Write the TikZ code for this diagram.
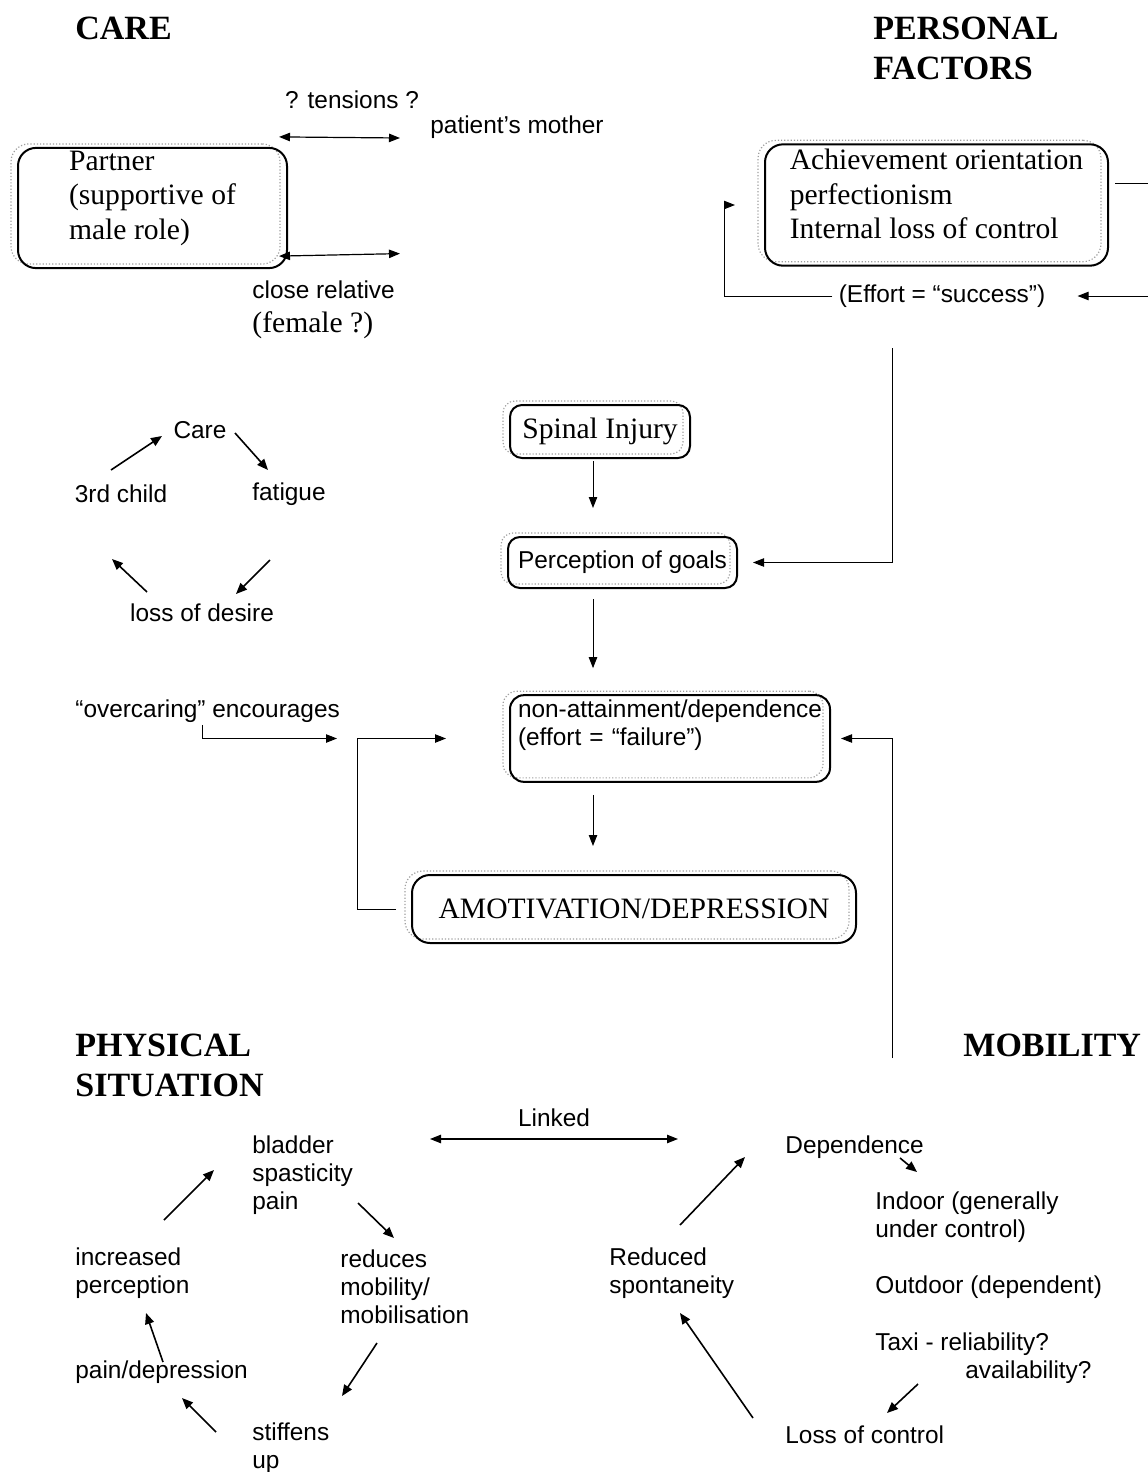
\documentclass[tikz,border=0pt]{standalone}
\usepackage{fontspec}
\setmainfont{Liberation Serif}
\setsansfont{Liberation Sans}
\usetikzlibrary{arrows.meta,calc}
\newcommand{\lowpad}[1]{\rule[-#1]{0pt}{#1}}

\begin{document}
\begin{tikzpicture}[
  x=0.5pt, y=-0.5pt,
  head/.style={font=\bfseries\fontsize{17}{20}\selectfont, align=left,
    inner sep=0pt, anchor=west},
  txt/.style={font=\sffamily\fontsize{12.2}{14}\selectfont, align=left,
    inner sep=1pt},
  ghost/.style={preaction={draw=gray!75, densely dotted, line width=0.6pt,
    transform canvas={xshift=-3.5pt, yshift=2pt}}},
  rbox/.style={ghost, draw, line width=1pt, rounded corners=9pt, align=left,
    font=\fontsize{14.8}{17.2}\selectfont},
  sbox/.style={ghost, draw, line width=1pt, rounded corners=7pt, align=left,
    font=\sffamily\fontsize{12.2}{14}\selectfont},
  arr/.style={-{Triangle[length=5.5pt,width=4.2pt]}, line width=0.5pt},
  dbl/.style={{Triangle[length=5.5pt,width=4.2pt]}-{Triangle[length=5.5pt,width=4.2pt]},
    line width=0.6pt},
  cyc/.style={-{Triangle[length=5.5pt,width=4.5pt]}, line width=0.8pt},
]
\useasboundingbox (0,0) rectangle (1147,1472);

% HEADINGS
\node[head] (carehd) at (75,28) {CARE};
\node[head] (perhd) at (873,48) {PERSONAL\\FACTORS};
\node[head] (phyhd) at (75,1065) {PHYSICAL\\SITUATION};
\node[head] (mobhd) at (963,1045) {MOBILITY};

% CARE (top left)
\node[rbox, minimum width=134.5pt, inner ysep=1.5pt] (partner) at (152.5,208)
  {Partner\\(supportive of\\male role)\lowpad{13pt}};
\node[txt] (tens) at (352,100) {? tensions ?};
\node[txt, anchor=west] (mother) at (428,127) {patient’s mother};
\node[txt, anchor=west] (rel) at (250,310)
  {close relative\\[3pt]{\rmfamily\fontsize{14.8}{17}\selectfont (female ?)}};

% care cycle
\node[txt] (care) at (200,430) {Care};
\node[txt] (tc) at (121,494) {3rd child};
\node[txt] (fat) at (289,494) {fatigue};
\node[txt] (loss) at (202,613) {loss of desire};

% PERSONAL FACTORS (top right)
\node[rbox, minimum width=171.5pt, inner ysep=2.5pt, inner xsep=5pt] (personal)
  at (936.5,205)
  {Achievement orientation\\perfectionism\\Internal loss of control\lowpad{11pt}};
\node[txt] (effort) at (942,296) {(Effort = “success”)};
\coordinate (rtedge) at (1150,0);
\coordinate (pertail) at (892,348);

% CENTRE CHAIN
\coordinate (axis) at (593,0);
\node[rbox, minimum width=90pt, minimum height=26.5pt, rounded corners=6pt]
  (spinal) at (600,431.5) {Spinal Injury};
\node[sbox, minimum width=114.5pt, minimum height=25.5pt, inner xsep=3pt,
  rounded corners=6pt] (perc) at (622.5,562.5) {Perception of goals};
\node[sbox, text width=152pt, inner xsep=4pt, inner ysep=2.5pt] (nonatt)
  at (670,738.5)
  {non-attainment/dependence\\(effort = “failure”)\lowpad{15.5pt}};
\node[rbox, minimum width=222pt, minimum height=34pt, align=center] (amot)
  at (634,909) {AMOTIVATION/DEPRESSION};
\node[txt, anchor=west] (over) at (73,711) {“overcaring” encourages};
\coordinate (mobtail) at (892,1058);

% PHYSICAL SITUATION cycle
\node[txt, anchor=west] (blad) at (250,1175) {bladder\\spasticity\\pain};
\node[txt, anchor=west] (incr) at (73,1273) {increased\\perception};
\node[txt, anchor=west] (redu) at (338,1287) {reduces\\mobility/\\mobilisation};
\node[txt, anchor=west] (pdep) at (73,1372) {pain/depression};
\node[txt, anchor=west] (stif) at (250,1448) {stiffens\\up};

% MOBILITY cycle
\node[txt, anchor=west] (dep) at (783,1147) {Dependence};
\node[txt, anchor=west] (ind) at (873,1217) {Indoor (generally\\under control)};
\node[txt, anchor=west] (outd) at (873,1287) {Outdoor (dependent)};
\node[txt, anchor=west] (taxi) at (873,1358)
  {Taxi - reliability?\\\hspace*{45pt}availability?};
\node[txt, anchor=west] (redsp) at (607,1273) {Reduced\\spontaneity};
\node[txt, anchor=west] (loc) at (783,1435) {Loss of control};

% ARROWS - care
\draw[dbl] ($(partner.north east)+(-9,-10)$) -- ($(mother.west)+(-28,11)$);
\draw[dbl] ($(partner.south east)+(-9,-13)$) -- ($(rel.north west)+(150,-25)$);
\draw[cyc] ($(tc)+(-10,-24)$) -- ($(care)+(-38,6)$);
\draw[cyc] ($(care)+(35,3)$) -- ($(fat)+(-21,-24)$);
\draw[cyc] ($(fat)+(-19,66)$) -- ($(loss)+(34,-19)$);
\draw[cyc] ($(loss)+(-55,-21)$) -- ($(tc)+(-9,65)$);

% ARROWS - personal factors
\draw[line width=0.5pt, shorten <=3pt] (personal.7) -- ++(40,0);
\draw[arr, shorten >=15pt] (effort.east -| rtedge) -- (effort.east);
\draw[arr, shorten <=2pt, shorten >=14.5pt] (effort.west) -- ++(-112,0)
  |- (personal.west);
\draw[arr, shorten >=7.5pt] (pertail) |- (perc.east);

% ARROWS - centre
\draw[arr, shorten <=1pt, shorten >=14pt] (spinal.south -| axis)
  -- (perc.north -| axis);
\draw[arr, shorten <=5pt, shorten >=13pt] (perc.south -| axis)
  -- (nonatt.north -| axis);
\draw[arr, shorten <=6pt, shorten >=14pt] (nonatt.south -| axis)
  -- (amot.north -| axis);
\draw[arr, shorten <=7.5pt, shorten >=31.5pt] (amot.west) -- ++(-54,0)
  |- (nonatt.west);
\draw[arr, shorten >=86pt] ($(over.south west)!0.48!(over.south east)$)
  |- (nonatt.west);
\draw[arr, shorten >=5pt] (mobtail) |- (nonatt.east);

% ARROWS - physical situation
\draw[dbl] ($(blad.west)+(180,-36)$) -- ($(dep.west)+(-105,-8)$);
\node[txt] (linked) at (554,1118) {Linked};
\draw[cyc] ($(incr.west)+(91,-53)$) -- ($(blad.west)+(-36,-5)$);
\draw[cyc] ($(blad.west)+(108,28)$) -- ($(redu.west)+(56,-49)$);
\draw[cyc] ($(redu.west)+(39,56)$) -- ($(stif.west)+(92,-52)$);
\draw[cyc] ($(stif.west)+(-34,-16)$) -- ($(pdep.west)+(109,26)$);
\draw[cyc] ($(pdep.west)+(90,-10)$) -- ($(incr.west)+(73,40)$);

% ARROWS - mobility
\draw[cyc] ($(dep.west)+(117,11)$) -- ($(dep.west)+(134,25)$);
\draw[cyc] ($(taxi.west)+(45,26)$) -- ($(loc.west)+(104,-22)$);
\draw[cyc] ($(loc.west)+(-30,-17)$) -- ($(redsp.west)+(73,40)$);
\draw[cyc] ($(redsp.west)+(73,-48)$) -- ($(dep.west)+(-38,10)$);
\end{tikzpicture}
\end{document}
